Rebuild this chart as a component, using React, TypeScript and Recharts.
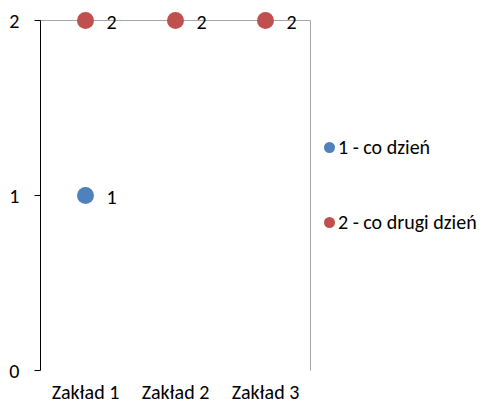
import {
  ScatterChart,
  Scatter,
  XAxis,
  YAxis,
  ReferenceLine,
  LabelList,
} from "recharts";

const categories = ["Zakład 1", "Zakład 2", "Zakład 3"];
const seriesNames = ["1 - co dzień", "2 - co drugi dzień"];
const dailyValues: (number | null)[] = [1, null, null];
const everyOtherDayValues: (number | null)[] = [2, 2, 2];
const yTicks = [0, 1, 2];

const COLORS = ["#4F81BD", "#C0504D"];
const FONT = "Carlito, Lato, sans-serif";
const FONT_SIZE = 20;

const toPoints = (values: (number | null)[]) =>
  values
    .map((v, i) => ({ x: i + 1, y: v, name: categories[i] }))
    .filter((p) => p.y !== null);

const dailyData = toPoints(dailyValues);
const otherDayData = toPoints(everyOtherDayValues);

const boundaryTicks = categories.map((_, i) => i + 0.5).concat(categories.length + 0.5);
const centerTicks = categories.map((_, i) => i + 1);

const dotShape = (color: string) => (props: any) => (
  <circle cx={props.cx} cy={props.cy} r={8.5} fill={color} />
);

const renderLabel = (props: any) => {
  const { x, y, width, height, value } = props;
  return (
    <text
      x={x + width / 2 + 21}
      y={y + height / 2 + 1}
      dominantBaseline="central"
      fontSize={FONT_SIZE}
      fontFamily={FONT}
      fill="#000"
    >
      {value}
    </text>
  );
};

// legend drawn outside the svg so it doesn't shrink the plot
const SeriesLegend = () => (
  <div
    style={{
      position: "absolute",
      left: 324,
      top: 134,
      fontFamily: FONT,
      fontSize: FONT_SIZE,
      color: "#000",
    }}
  >
    {seriesNames.map((name, i) => (
      <div
        key={name}
        style={{ display: "flex", alignItems: "center", height: 26, marginBottom: i === 0 ? 49 : 0, whiteSpace: "nowrap" }}
      >
        <span
          style={{
            display: "inline-block",
            width: 11,
            height: 11,
            borderRadius: "50%",
            background: COLORS[i],
            marginRight: 3,
          }}
        />
        <span>{name}</span>
      </div>
    ))}
  </div>
);

export default function App() {
  return (
    <div style={{ position: "absolute", left: 0, top: 0, width: 480, height: 403, background: "#fff" }}>
      <ScatterChart
        width={480}
        height={403}
        margin={{ top: 20.5, right: 169.5, left: 0.5, bottom: 0.5 }}
      >
        <XAxis
          xAxisId="bounds"
          type="number"
          dataKey="x"
          domain={[0.5, 3.5]}
          ticks={boundaryTicks}
          tickFormatter={() => ""}
          tickSize={6}
          tickLine={{ stroke: "#000" }}
          axisLine={{ stroke: "#000" }}
          height={0}
        />
        <XAxis
          xAxisId="labels"
          type="number"
          dataKey="x"
          domain={[0.5, 3.5]}
          ticks={centerTicks}
          tickFormatter={(v) => categories[v - 1]}
          tickLine={false}
          axisLine={false}
          tickSize={0}
          tickMargin={14}
          height={32}
          tick={{ fontSize: FONT_SIZE, fontFamily: FONT, fill: "#000" }}
        />
        <YAxis
          type="number"
          dataKey="y"
          domain={[0, 2]}
          ticks={yTicks}
          width={40}
          tickSize={6}
          tickMargin={15}
          tickLine={{ stroke: "#000" }}
          axisLine={{ stroke: "#000" }}
          tick={{ fontSize: FONT_SIZE, fontFamily: FONT, fill: "#000" }}
        />
        <ReferenceLine xAxisId="labels" y={2} stroke="#a6a6a6" />
        <ReferenceLine xAxisId="labels" x={3.5} stroke="#a6a6a6" />
        <Scatter
          name={seriesNames[0]}
          data={dailyData}
          xAxisId="labels"
          fill={COLORS[0]}
          shape={dotShape(COLORS[0])}
          isAnimationActive={false}
        >
          <LabelList dataKey="y" content={renderLabel} />
        </Scatter>
        <Scatter
          name={seriesNames[1]}
          data={otherDayData}
          xAxisId="labels"
          fill={COLORS[1]}
          shape={dotShape(COLORS[1])}
          isAnimationActive={false}
        >
          <LabelList dataKey="y" content={renderLabel} />
        </Scatter>
      </ScatterChart>
      <SeriesLegend />
    </div>
  );
}
